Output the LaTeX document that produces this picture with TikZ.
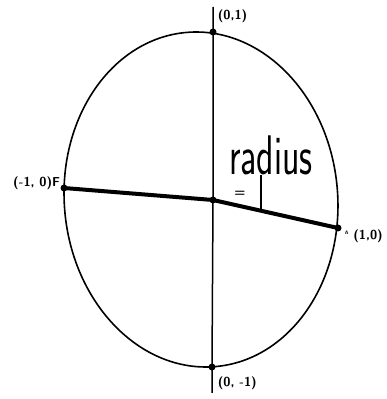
\documentclass[tikz,border=0pt]{standalone}
\usepackage{tikz}
\usepackage{graphicx}
\usetikzlibrary{positioning, calc}

\begin{document}
\begin{tikzpicture}[
		x=1pt, y=1pt,
		%--- Shape Styles --------------------------------------------------
		rim/.style={
			draw=black,
			line width=1.6pt
		},
		axisline/.style={
			draw=black,
			line width=1.5pt
		},
		radiusline/.style={
			draw=black,
			line width=4pt,
			line join=round
		},
		tickline/.style={
			draw=black,
			line width=1.2pt
		},
		dot/.style={
			circle,
			fill=black,
			inner sep=0pt,
			minimum size=7pt
		},
		%--- Label Styles --------------------------------------------------
		ptlabel/.style={
			inner sep=0pt,
			font=\sffamily\bfseries\fontsize{13}{15}\selectfont
		},
		hand/.style={
			inner sep=0pt,
			font=\sffamily\fontsize{36}{36}\selectfont
		}
		]
		
		\useasboundingbox (0,0) rectangle (386,399);
		
		%--- Circle (drawn a bit tilted) ----------------------------------------
		
		\coordinate (mid) at (201,199.5);
		\draw[rim, rotate around={5:(mid)}]
		(mid) ellipse [x radius=136.7, y radius=167.7];
		
		%--- Points on the circle ----------------------------------------------
		
		\node[dot] (top) at (213,367) {};
		\node[dot] (bot) at (212,32)  {};
		\node[dot] (fpt) at (64,211)  {};
		\node[dot] (apt) at (338,171) {};
		\node[dot] (ctr) at (213,199) {};
		
		%--- Vertical Axis -----------------------------------------------------
		
		\coordinate (axtop) at (213,392);
		\coordinate (axbot) at (212,6);
		\draw[axisline] (axtop) -- (top.center) -- (ctr.center)
		-- (bot.center) -- (axbot);
		
		%--- Diameter F -- A ---------------------------------------------------
		
		\draw[radiusline] (fpt.center) -- (ctr.center) -- (apt.center);
		
		%--- Handwritten Note --------------------------------------------------
		
		\node[hand] (rad) at (271,244) {\scalebox{1}[1.55]{radius}};
		\node[hand, font=\sffamily\bfseries\fontsize{13}{13}\selectfont] (eq)
		at (240,205) {=};
		
		\coordinate (foot) at ($(ctr.center)!0.384!(apt.center)$);
		\coordinate (foottop) at ($(foot)+(0,36)$);
		\draw[tickline] (foot) -- (foottop);
		
		%--- Point Labels ------------------------------------------------------
		
		\node[ptlabel, above right=6pt and 2pt of top] (toplbl) {(0,1)};
		\node[ptlabel, below right=7pt and 3pt of bot] (botlbl) {(0, -1)};
		\node[ptlabel, left=0pt of fpt, yshift=5pt] (flbl) {(-1, 0)F};
		\node[ptlabel, right=3pt of apt, yshift=-8pt] (albl)
		{\raisebox{5pt}{\tiny A}\ (1,0)};
		
	\end{tikzpicture}
\end{document}
